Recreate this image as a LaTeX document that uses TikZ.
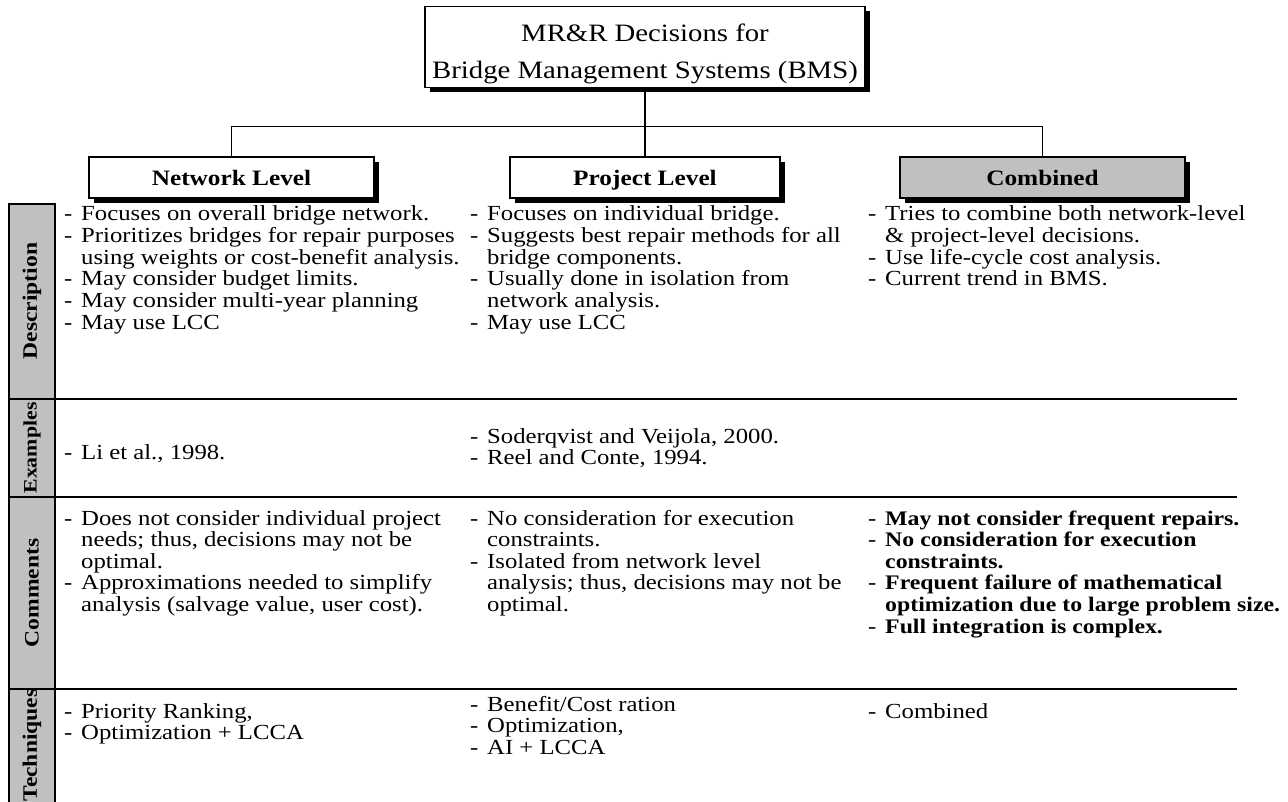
\documentclass[tikz,border=0pt]{standalone}
\usepackage{array}
\usepackage{fontspec}
\setmainfont[FakeStretch=1.15]{Liberation Serif}
\usetikzlibrary{shadows}
\definecolor{lblgray}{RGB}{192,192,192}
\newcommand\bodyf{\fontsize{21.5}{21.6}\selectfont}
\newcommand\boldf{\fontsize{20.7}{21.6}\selectfont\bfseries}
\begin{document}
\begin{tikzpicture}[x=1pt,y=-1pt,
  boxsh/.style={draw=black, line width=1.3pt, inner sep=0pt,
     general shadow={fill=black, shadow xshift=5pt, shadow yshift=-5pt}},
  hdr/.style={boxsh, fill=white, minimum height=41pt, text height=19pt, text depth=2pt,
     font=\fontsize{22}{26}\selectfont\bfseries},
  conn/.style={line width=1.4pt},
  sep/.style={line width=1.8pt},
  lbl/.style={rotate=90, inner sep=0pt, font=\fontsize{20.5}{24}\selectfont\bfseries},
  txt/.style={anchor=base west, inner sep=0pt, font=\bodyf, align=left}
]
\useasboundingbox (0,0) rectangle (1288,802);

% title
\node[boxsh, fill=white, minimum width=440pt, minimum height=81pt,
      align=center, font=\fontsize{25}{37}\selectfont] (title) at (645,47)
  {\rule{0pt}{31pt}MR\&R Decisions for\\Bridge Management Systems (BMS)};

% level headers
\node[hdr, minimum width=285pt] (net) at (231.5,177.5) {Network Level};
\node[hdr, minimum width=270pt] (proj) at (645,177.5) {Project Level};
\node[hdr, fill=lblgray, minimum width=285pt] (comb) at (1042.5,177.5) {Combined};

% connectors
\draw[conn] (title.south) -- (proj.north);
\draw[conn] (net.north) -- ++(0,-30) -| (comb.north);

% label column
\fill[lblgray] (9,204) rectangle (55,802);
\draw[sep] (9,802) -- (9,204) -- (55,204) -- (55,802);
\draw[sep] (9,399) -- (1237,399);
\draw[sep] (9,497) -- (1237,497);
\draw[sep] (9,689) -- (1237,689);

\node[lbl] (ldesc) at (32,301) {Description};
\node[lbl, font=\fontsize{19}{22}\selectfont\bfseries] (lex) at (32,448) {Examples};
\node[lbl] (lcom) at (32,593) {Comments};
\node[lbl] (ltech) at (32,745) {Techniques};

% Description
\node[txt] (d1) at (64,221) {\begin{tabular}[t]{@{}p{17pt}@{}l@{}}
- & Focuses on overall bridge network.\\
- & Prioritizes bridges for repair purposes\\
  & using weights or cost-benefit analysis.\\
- & May consider budget limits.\\
- & May consider multi-year planning\\
- & May use LCC
\end{tabular}};
\node[txt] (d2) at (470,221) {\begin{tabular}[t]{@{}p{17pt}@{}l@{}}
- & Focuses on individual bridge.\\
- & Suggests best repair methods for all\\
  & bridge components.\\
- & Usually done in isolation from\\
  & network analysis.\\
- & May use LCC
\end{tabular}};
\node[txt] (d3) at (868,221) {\begin{tabular}[t]{@{}p{17pt}@{}l@{}}
- & Tries to combine both network-level\\
  & \& project-level decisions.\\
- & Use life-cycle cost analysis.\\
- & Current trend in BMS.
\end{tabular}};

% Examples
\node[txt] (e1) at (64,459) {\begin{tabular}[t]{@{}p{17pt}@{}l@{}}
- & Li et al., 1998.
\end{tabular}};
\node[txt] (e2) at (470,443) {\begin{tabular}[t]{@{}p{17pt}@{}l@{}}
- & Soderqvist and Veijola, 2000.\\
- & Reel and Conte, 1994.
\end{tabular}};

% Comments
\node[txt] (c1) at (64,525) {\begin{tabular}[t]{@{}p{17pt}@{}l@{}}
- & Does not consider individual project\\
  & needs; thus, decisions may not be\\
  & optimal.\\
- & Approximations needed to simplify\\
  & analysis (salvage value, user cost).
\end{tabular}};
\node[txt] (c2) at (470,525) {\begin{tabular}[t]{@{}p{17pt}@{}l@{}}
- & No consideration for execution\\
  & constraints.\\
- & Isolated from network level\\
  & analysis; thus, decisions may not be\\
  & optimal.
\end{tabular}};
\node[txt] (c3) at (868,525) {\begin{tabular}[t]{@{}p{17pt}@{}>{\boldf}l@{}}
- & May not consider frequent repairs.\\
- & No consideration for execution\\
  & constraints.\\
- & Frequent failure of mathematical\\
  & optimization due to large problem size.\\
- & Full integration is complex.
\end{tabular}};

% Techniques
\node[txt] (t1) at (64,718) {\begin{tabular}[t]{@{}p{17pt}@{}l@{}}
- & Priority Ranking,\\
- & Optimization + LCCA
\end{tabular}};
\node[txt] (t2) at (470,711) {\begin{tabular}[t]{@{}p{17pt}@{}l@{}}
- & Benefit/Cost ration\\
- & Optimization,\\
- & AI + LCCA
\end{tabular}};
\node[txt] (t3) at (868,718) {\begin{tabular}[t]{@{}p{17pt}@{}l@{}}
- & Combined
\end{tabular}};
\end{tikzpicture}
\end{document}
